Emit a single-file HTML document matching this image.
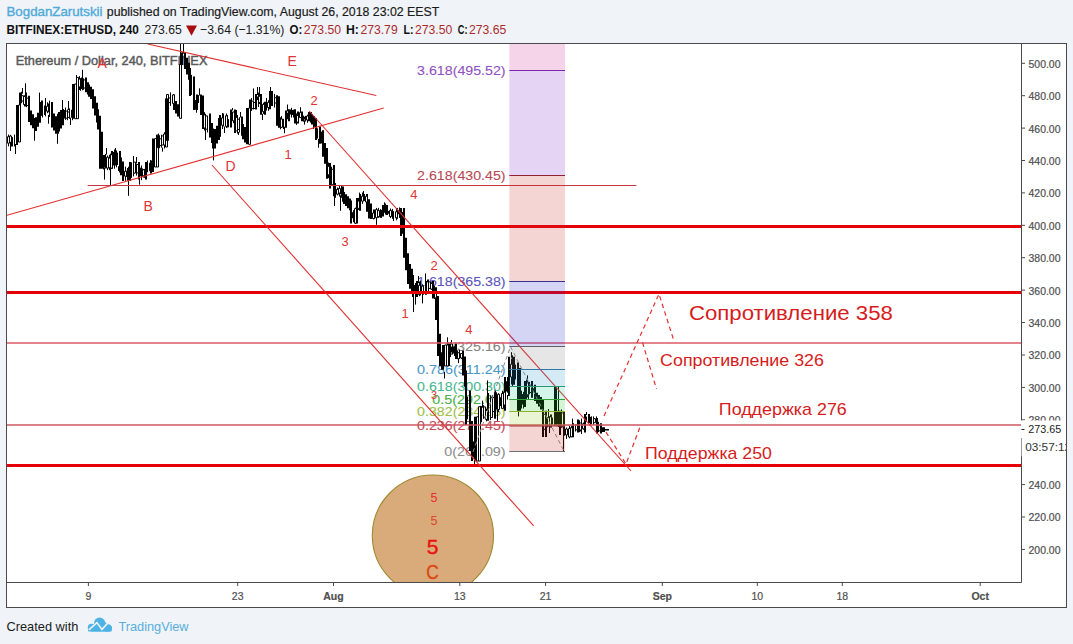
<!DOCTYPE html>
<html><head><meta charset="utf-8"><style>
html,body{margin:0;padding:0;width:1073px;height:644px;overflow:hidden;background:#f0f3f7;}
body{position:relative;font-family:"Liberation Sans", sans-serif;}
</style></head><body>
<svg width="1073" height="644" viewBox="0 0 1073 644" style="position:absolute;left:0;top:0">
<g font-family='"Liberation Sans", sans-serif' font-size="13">
<text x="6.5" y="15.6" fill="#4eaad9" stroke="#4eaad9" stroke-width="0.35" textLength="96" lengthAdjust="spacingAndGlyphs">BogdanZarutskii</text>
<text x="106.8" y="15.6" fill="#1b1b1b" stroke="#1b1b1b" stroke-width="0.2" textLength="332.4" lengthAdjust="spacingAndGlyphs">published on TradingView.com, August 26, 2018 23:02 EEST</text>
<text x="6.5" y="33.9" fill="#111" font-weight="bold" textLength="132.4" lengthAdjust="spacingAndGlyphs">BITFINEX:ETHUSD, 240</text>
<text x="144.5" y="33.9" fill="#1b1b1b" textLength="37.3" lengthAdjust="spacingAndGlyphs">273.65</text>
<path d="M186 25.6h11l-5.5 10.2z" fill="#a80e0e"/>
<text x="200" y="33.9" fill="#1b1b1b" textLength="84.4" lengthAdjust="spacingAndGlyphs">−3.64 (−1.31%)</text>
<text x="289.5" y="33.9" fill="#111" font-weight="bold" textLength="12.8" lengthAdjust="spacingAndGlyphs">O:</text>
<text x="346" y="33.9" fill="#111" font-weight="bold" textLength="12.9" lengthAdjust="spacingAndGlyphs">H:</text>
<text x="403.5" y="33.9" fill="#111" font-weight="bold" textLength="10.0" lengthAdjust="spacingAndGlyphs">L:</text>
<text x="457.8" y="33.9" fill="#111" font-weight="bold" textLength="9.7" lengthAdjust="spacingAndGlyphs">C:</text>
<text x="303.8" y="33.9" fill="#ab2a2d" textLength="37.3" lengthAdjust="spacingAndGlyphs">273.50</text>
<text x="360.4" y="33.9" fill="#ab2a2d" textLength="37.3" lengthAdjust="spacingAndGlyphs">273.79</text>
<text x="415" y="33.9" fill="#ab2a2d" textLength="37.3" lengthAdjust="spacingAndGlyphs">273.50</text>
<text x="469" y="33.9" fill="#ab2a2d" textLength="37.3" lengthAdjust="spacingAndGlyphs">273.65</text>
</g>
<rect x="6.5" y="43.5" width="1060" height="564" fill="#fff" stroke="#4a4a4a" stroke-width="1"/>
<defs><clipPath id="plot"><rect x="7" y="44" width="1014" height="538"/></clipPath></defs>
<text x="15.8" y="64.8" font-family='"Liberation Sans", sans-serif' font-size="12.8" fill="#5a5a5a" stroke="#5a5a5a" stroke-width="0.45" textLength="191.6" lengthAdjust="spacingAndGlyphs">Ethereum / Dollar, 240, BITFINEX</text>
<g font-family='"Liberation Sans", sans-serif' font-size="12">
<text x="417.1" y="74.8" fill="#9050c0" stroke="#9050c0" stroke-width="0.08" textLength="88.5" lengthAdjust="spacingAndGlyphs">3.618(495.52)</text>
<text x="417.1" y="179.8" fill="#b84852" stroke="#b84852" stroke-width="0.08" textLength="88.5" lengthAdjust="spacingAndGlyphs">2.618(430.45)</text>
<text x="417.1" y="285.8" fill="#5a52b8" stroke="#5a52b8" stroke-width="0.08" textLength="88.5" lengthAdjust="spacingAndGlyphs">1.618(365.38)</text>
<text x="444.3" y="350.8" fill="#858585" stroke="#858585" stroke-width="0.08" textLength="61.3" lengthAdjust="spacingAndGlyphs">1(325.16)</text>
<text x="417.1" y="373.8" fill="#4a98c8" stroke="#4a98c8" stroke-width="0.08" textLength="88.5" lengthAdjust="spacingAndGlyphs">0.786(311.24)</text>
<text x="417.1" y="390.8" fill="#46b890" stroke="#46b890" stroke-width="0.08" textLength="88.5" lengthAdjust="spacingAndGlyphs">0.618(300.30)</text>
<text x="432.3" y="403.8" fill="#48b048" stroke="#48b048" stroke-width="0.08" textLength="73.3" lengthAdjust="spacingAndGlyphs">0.5(292.68)</text>
<text x="417.1" y="415.8" fill="#a0c048" stroke="#a0c048" stroke-width="0.08" textLength="88.5" lengthAdjust="spacingAndGlyphs">0.382(284.95)</text>
<text x="417.1" y="430.3" fill="#c24a56" stroke="#c24a56" stroke-width="0.08" textLength="88.5" lengthAdjust="spacingAndGlyphs">0.236(275.45)</text>
<text x="444.3" y="455.8" fill="#8e8e8e" stroke="#8e8e8e" stroke-width="0.08" textLength="61.3" lengthAdjust="spacingAndGlyphs">0(260.09)</text>
</g>
<g clip-path="url(#plot)">
<path d="M8.5 134.5V146.4M10.5 134.9V146.5M11.5 137.9V146.5M12.5 137.3V146.5M14.5 134.6V146.5M21.5 91.7V103.2M24.5 95.3V106.5M26.5 96.2V107.2M41.5 100.5V115.9M42.5 100.5V117.5M45.5 102.6V116.4M47.5 102.2V113.2M49.5 103.2V115.3M49.5 100.6V116.9M65.5 109.9V119.4M65.5 107.5V119.7M67.5 109.4V120.2M69.5 108.4V118.8M72.5 107.5V120.2M79.5 76.1V90M80.5 78.2V90.8M82.5 75.9V90.3M83.5 78.3V89.8M103.5 155V169.5M105.5 154V168.5M107.5 155.5V170.2M109.5 154.8V170.2M110.5 153.7V170.2M114.5 149.5V168.7M116.5 150.4V167.3M117.5 152.6V164.9M125.5 166.6V180.8M127.5 168.1V178.3M128.5 166.7V182.5M131.5 162.3V177.9M133.5 160.6V176.4M134.5 162.5V173.3M136.5 163.5V175.6M141.5 165.5V180.2M142.5 168.4V177.1M144.5 168.9V177.8M147.5 160.5V172.2M150.5 160.5V173.5M151.5 160.5V173.5M158.5 133.5V150.1M159.5 137V148.1M161.5 134.7V147.7M164.5 132.2V148.5M168.5 95.7V103.2M170.5 93.8V105.9M173.5 94.2V107.2M182.5 52.1V64.7M191.5 74.9V95M196.5 97.4V111.5M198.5 95.1V103M204.5 112.1V130.5M205.5 113.8V129.6M207.5 119V132.5M222.5 114.7V129M223.5 113.5V126.4M226.5 113.5V127.9M228.5 119.1V127.3M233.5 111.9V123.2M235.5 114.9V131.6M237.5 115V133.6M239.5 117.2V132.5M251.5 98.1V110.9M253.5 101.2V109.5M258.5 92.5V101.6M259.5 92.5V104M263.5 102.7V113.9M266.5 100.3V110.5M268.5 100.2V110.8M272.5 95V106.1M274.5 93.9V107.5M280.5 117.3V129.3M281.5 116V128M283.5 118.8V129M288.5 110.4V120.7M291.5 107.8V117.5M293.5 109.7V117.5M296.5 113.5V124.9M300.5 111.2V118.1M303.5 115.6V121.7M305.5 115.9V121.6M307.5 114.7V122.8M317.5 128.3V138.5M321.5 131.7V143.4M328.5 162.5V178.1M331.5 166.7V184.9M335.5 183.1V197.8M337.5 187.5V195.4M339.5 185.1V196.6M341.5 185.9V197.8M353.5 210.2V222.2M355.5 207.6V224M358.5 197.9V209.9M362.5 192.5V203.9M364.5 194V200.9M366.5 195.3V203M373.5 212.4V219.4M376.5 207.9V219.3M378.5 207.9V217.7M380.5 209.1V217.9M381.5 209.9V217.9M385.5 203.5V214.5M389.5 211V213.9M390.5 208.5V218.1M392.5 208.9V218.8M393.5 211.2V218M396.5 209.9V220.3M399.5 207.4V217.9M403.5 209.7V235.1M415.5 283.1V296M419.5 281.5V296.2M420.5 280.7V295.4M422.5 284.3V291.9M423.5 285.8V294.6M427.5 279.5V293.7M428.5 279.5V290.5M431.5 282.4V290M434.5 285.7V299M450.5 342.1V357.1M452.5 343.9V354.4M454.5 346.2V356.1M457.5 350.3V359.1M459.5 349.7V358.8M461.5 353.1V359.1M467.5 396.8V419.3M474.5 437V462.2M480.5 405.9V420.3M481.5 406.1V422.3M483.5 405.2V418.8M486.5 408.9V421.4M488.5 393V417.2M490.5 395.4V420.1M492.5 395.2V416M496.5 392.6V409.6M498.5 393.3V412.2M500.5 397.2V406.1M502.5 390.8V408.8M504.5 390.9V405.2M507.5 377.1V392.7M511.5 360V379.7M512.5 355.3V386.2M515.5 364.6V379.5M521.5 390.7V408.5M523.5 391.8V408.5M526.5 379.5V398.9M528.5 381.9V399.3M529.5 381.8V394.3M534.5 387.3V396.8M543.5 412.9V434.1M547.5 417V427.3M549.5 416.3V429.1M552.5 417.8V424.6M558.5 409.8V427M561.5 409.4V427.8M566.5 428.7V438.6M566.5 427.6V438.8M569.5 425.7V438.3M571.5 425.7V437.2M573.5 424.9V430.7M575.5 424.7V431.5M579.5 420.3V432.2M581.5 418.6V434.1M583.5 422.5V429.7M586.5 416.6V422M590.5 416.8V424.8M591.5 416.4V424.1M593.5 416.4V424.8M596.5 416.4V423.1M598.5 421.8V432.2M15.5 144V154M10.5 144V151M25.5 83.3V93.6M22.5 88V93.6M34.5 128.1V140.7M39.5 92.6V113.3M45.5 98V103M48.5 115V123.7M57.5 133.5V143.8M62.5 100V111M68.5 101V110M70.5 117.7V125M82.5 69.8V78.4M76.5 75V85M106.5 148V154.5M104.5 167.7V179.6M110.5 167.7V185M115.5 148V152M118.5 166.2V171M128.5 180V195.8M133.5 156V163M136.5 157V163M139.5 178.6V184.6M150.5 160V163M162.5 147.6V151.7M170.5 92.4V95.5M180.5 43.5V65.5M183.5 43.5V53.6M196.5 109V112.7M199.5 88.3V95.5M200.5 102V114M205.5 128V140M213.5 145.7V160.4M218.5 118V126M222.5 113V116M224.5 126.5V133M232.5 108V110.4M236.5 110V117.4M240.5 112V117.4M238.5 132V135M253.5 88.4V100.6M257.5 87V95M259.5 87V95M258.5 101.8V107M262.5 113.8V120M266.5 98V102.7M270.5 87V91.9M284.5 126.8V133.3M287.5 104.5V111.4M300.5 107.2V112.5M304.5 120.3V124.6M313.5 123.3V129M318.5 139V147.7M334.5 195.3V206M340.5 195.3V210.8M359.5 192.6V199M363.5 191V195M376.5 216.8V224.8M384.5 202.4V206M393.5 216.4V221M413.5 295.5V312M415.5 296V304.6M418.5 276V283.2M422.5 293.7V303.4M425.5 273.5V282M444.5 372V378.5M447.5 337.3V346M451.5 340V344.6M458.5 358V363M474.5 460V465M482.5 400.6V407.7M487.5 380.4V407.7M497.5 409.7V420.8M507.5 395V399.6M511.5 352.1V357.8M518.5 409.8V416.4M527.5 375.4V382M548.5 409V417.4M549.5 426.6V433M563.5 434V451.8M572.5 418.6V428.2M586.5 412V415" fill="none" stroke="#000" stroke-width="1"/>
<path d="M11 138.6h1v4.9h-1zM12 137.6h1v5h-1zM14 136.9h1v8h-1zM16 105h2v40h-2zM19 92.6h2v49.4h-2zM25 92.6h2v14h-2zM28 95.7h2v26.3h-2zM30 110.4h2v14.8h-2zM32 114.3h2v14h-2zM34 118.1h2v12.8h-2zM35 117.3h2v13.6h-2zM37 112.7h2v14.1h-2zM39 102h2v20.7h-2zM41 104.9h1v6.7h-1zM42 105.3h1v9.9h-1zM44 105.5h1v9.5h-1zM48 103.4h1v8.8h-1zM49 105.5h1v8.9h-1zM51 102h2v25.5h-2zM53 113.4h2v17.2h-2zM55 116.3h2v17.4h-2zM57 113.7h2v20.1h-2zM58 111.9h2v19.7h-2zM60 110.1h2v18.3h-2zM62 109h2v16.2h-2zM64 110.1h1v8.4h-1zM69 110.9h1v5.7h-1zM71 109.8h1v7.9h-1zM72 84h2v34.7h-2zM80 80h1v7.3h-1zM81 77.5h1v11.6h-1zM85 77.4h2v14.8h-2zM87 82.2h2v12.3h-2zM88 84.5h2v12.3h-2zM90 86.8h2v12.3h-2zM92 89.2h2v19.3h-2zM94 96.2h2v19.3h-2zM96 102.7h2v19.7h-2zM97 109.2h2v20.2h-2zM99 115.7h2v53h-2zM101 131.7h2v37h-2zM103 155.1h1v11.6h-1zM104 155.1h1v12.4h-1zM111 151h2v17.7h-2zM113 152h1v13.6h-1zM115 151.7h1v13.8h-1zM117 153.4h1v11.5h-1zM119 151h2v21.5h-2zM120 157.6h2v17.7h-2zM122 161.4h2v19.6h-2zM126 170.7h1v6.2h-1zM127 168.1h1v12.6h-1zM129 162h2v19h-2zM131 166.7h1v6.6h-1zM134 164.2h1v7.9h-1zM138 162h2v17.6h-2zM140 167.8h1v8.4h-1zM143 168.9h1v8.6h-1zM145 162h2v17.6h-2zM147 162.4h1v9.3h-1zM152 138.6h2v33.4h-2zM170 97.1h1v5.1h-1zM173 94.5h2v15.6h-2zM175 100.9h2v12.5h-2zM177 104.2h2v12.4h-2zM180 52.6h2v65.7h-2zM182 53h1v11.6h-1zM184 52.6h2v16.3h-2zM186 57.7h2v16.7h-2zM188 62.8h2v17h-2zM189 68h2v28h-2zM191 77.2h1v13h-1zM193 76.4h2v33.6h-2zM195 99.9h1v9.9h-1zM196 94.5h2v15.5h-2zM198 96.7h1v3.5h-1zM200 94.5h2v20.5h-2zM202 95.4h2v33.6h-2zM207 119.8h1v9.3h-1zM209 113.6h2v23.8h-2zM211 122.9h2v20h-2zM212 128.4h2v20.1h-2zM214 129.1h2v19.4h-2zM216 125.7h2v17.7h-2zM218 122.3h2v17.7h-2zM219 115h2v21.7h-2zM223 115.4h1v8.8h-1zM226 115h2v12.5h-2zM228 122.3h1v2.9h-1zM230 109.4h2v18.1h-2zM234 109.4h2v23.6h-2zM239 119.2h1v9.6h-1zM241 116.4h2v19.4h-2zM242 124.1h2v15.1h-2zM244 127.1h2v15.4h-2zM246 108h2v36.3h-2zM249 99.6h2v44.7h-2zM255 94h2v15.4h-2zM257 96.6h1v3.4h-1zM260 94h2v20.8h-2zM264 101.7h2v13.1h-2zM265 102.3h1v5.5h-1zM269 90.9h2v18.4h-2zM271 90.9h2v15.1h-2zM272 98.8h1v5.8h-1zM276 95.2h2v30.5h-2zM278 96.3h2v31.5h-2zM281 119.1h1v8h-1zM283 119.5h1v7.9h-1zM285 110.4h2v17.4h-2zM287 112.7h1v6.5h-1zM288 109.3h2v12h-2zM290 109.5h1v4.9h-1zM292 109.9h1v5.2h-1zM294 109.3h2v14.2h-2zM297 111.5h2v12h-2zM301 111.5h2v9.8h-2zM303 116.6h1v3.1h-1zM304 116.7h1v2.9h-1zM308 111.9h2v9.4h-2zM310 111.9h2v10.6h-2zM311 113.9h2v10.7h-2zM313 116h2v10.7h-2zM315 118h2v22h-2zM317 130.2h1v5.5h-1zM319 126.4h2v17.4h-2zM320 133.2h1v5.9h-1zM322 130.2h2v26.5h-2zM324 143.1h2v20.7h-2zM326 147.9h2v30.9h-2zM329 163h2v25.5h-2zM333 165h2v31.3h-2zM334 187.2h1v7.2h-1zM340 189.5h1v4.7h-1zM342 186.6h2v15.1h-2zM343 192.1h2v11.8h-2zM345 194.2h2v11.8h-2zM347 196.3h2v11.9h-2zM349 198.4h2v11.9h-2zM350 200.5h2v22.9h-2zM352 212.3h1v6h-1zM356 198h2v25.4h-2zM359 194h2v16.8h-2zM363 195.1h1v5.8h-1zM366 194h2v17.8h-2zM368 199.2h2v19.3h-2zM370 203.6h2v15.4h-2zM373 209.4h2v9.6h-2zM379 210.8h1v6.5h-1zM380 212.2h1v3.6h-1zM382 205h2v11.4h-2zM384 205.8h1v7h-1zM386 205h2v10.1h-2zM388 211h1v2.7h-1zM391 212.8h1v3.4h-1zM393 211.7h1v4.9h-1zM396 208h2v10.8h-2zM398 210.2h1v4.1h-1zM400 208h2v28h-2zM402 212.1h1v21.7h-1zM403 208h2v49.7h-2zM405 237.7h2v32.6h-2zM407 253.3h2v30.8h-2zM409 264.1h2v24.7h-2zM411 268.8h2v24.6h-2zM412 275h2v22h-2zM414 285h1v8.6h-1zM416 281h2v16h-2zM419 283.2h1v7.8h-1zM423 286.4h1v7.9h-1zM425 281h2v13.7h-2zM432 281h2v17.4h-2zM435 287.2h2v32.8h-2zM437 296h2v60h-2zM439 333.8h2v32.5h-2zM441 352.3h2v17.5h-2zM442 345h2v24.8h-2zM448 343.6h2v22.4h-2zM453 347.2h1v6.2h-1zM455 343.6h2v15.4h-2zM458 352.8h1v5h-1zM462 350.6h2v24.8h-2zM464 356.5h2v30.3h-2zM465 370.5h2v54.5h-2zM467 401.7h1v14.5h-1zM469 390.5h2v60.5h-2zM471 421h2v40h-2zM473 441.5h1v16h-1zM474 416.8h2v44.2h-2zM480 410.5h1v8.3h-1zM481 407.6h1v12.7h-1zM487 394.5h2v26.3h-2zM488 395.8h1v16.5h-1zM494 390.5h2v28.3h-2zM496 392.6h1v16.4h-1zM499 397.4h1v7.7h-1zM504 377h2v33.7h-2zM506 381.2h1v10.3h-1zM508 356.8h2v39.2h-2zM511 358.4h1v26.1h-1zM513 356.8h2v27.9h-2zM515 367.6h1v9.9h-1zM517 362.4h2v48.4h-2zM519 368h2v42.8h-2zM520 393.1h1v13h-1zM522 394h1v10.6h-1zM524 381h2v26h-2zM527 384.6h1v13h-1zM531 381h2v16.8h-2zM533 388.2h1v4h-1zM534 384.7h2v16.2h-2zM536 392.8h2v10.9h-2zM538 394.9h2v11.7h-2zM540 397h2v12.5h-2zM542 399.1h2v37.8h-2zM545 410.8h2v26.1h-2zM550 414.5h2v13.1h-2zM552 417.8h1v5.4h-1zM554 386.6h2v39.1h-2zM559 410.8h2v24.2h-2zM563 410.9h2v24.8h-2zM566 427.9h1v6.5h-1zM572 423.3h2v14h-2zM573 426.1h1v2.8h-1zM577 419.4h2v13.2h-2zM580 423.2h1v8.4h-1zM584 414h2v18.6h-2zM586 417.2h1v4.8h-1zM588 414h2v9.3h-2zM589 419.4h1v2h-1zM591 418.9h1v3.5h-1zM595 419.5h1v2.2h-1zM596 417.9h2v15.5h-2zM600 423.3h2v10.1h-2zM602 427.2h2v4.7h-2zM603 427.2h2v4.7h-2zM605 429h2v1.5h-2zM607 429h2v1.5h-2z" fill="#000"/>
<path d="M7.5 136.7h2v6.5h-2zM9.5 136h2v6.3h-2zM18.5 105h2v37h-2zM21.5 95.7h2v5.3h-2zM23.5 96.4h2v8.2h-2zM26.5 98.1h2v7.4h-2zM46.5 106.2h2v5h-2zM65.5 111.1h2v7.1h-2zM67.5 112h2v5.4h-2zM74.5 84h2v34.7h-2zM76.5 77.4h2v41.3h-2zM78.5 79.1h2v7.8h-2zM83.5 79.9h2v8.1h-2zM106.5 157.2h2v10.9h-2zM108.5 158.1h2v9.7h-2zM110.5 154.7h2v13.4h-2zM124.5 171.3h2v4.9h-2zM133.5 162.1h2v11h-2zM136.5 164.5h2v8.4h-2zM142.5 169.8h2v6h-2zM149.5 163.1h2v7.8h-2zM150.5 162.7h2v8.2h-2zM154.5 138.6h2v28.4h-2zM156.5 135h2v32h-2zM157.5 135.4h2v12.4h-2zM159.5 138.8h2v6.8h-2zM161.5 135.9h2v9.1h-2zM163.5 134h2v11h-2zM165.5 98.7h2v48.3h-2zM166.5 94.5h2v46h-2zM168.5 98h2v4.6h-2zM172.5 94.9h2v8.5h-2zM179.5 64.5h2v53.8h-2zM203.5 114.9h2v13.1h-2zM205.5 115.9h2v13.3h-2zM221.5 117.9h2v7.3h-2zM225.5 115.8h2v10.5h-2zM232.5 112h2v8.8h-2zM235.5 117.4h2v13.5h-2zM237.5 119.2h2v10.3h-2zM248.5 108h2v36.3h-2zM251.5 101.2h2v7.4h-2zM253.5 102.5h2v6h-2zM258.5 96.2h2v6.3h-2zM262.5 104.4h2v7.3h-2zM267.5 102.4h2v5.1h-2zM274.5 97.7h2v5.3h-2zM280.5 119h2v8.3h-2zM296.5 115.5h2v6.6h-2zM299.5 112.6h2v5h-2zM306.5 116h2v4h-2zM327.5 166.3h2v8.5h-2zM331.5 169.3h2v15.4h-2zM336.5 189.3h2v4.9h-2zM338.5 188.4h2v4.7h-2zM354.5 208.6h2v14.6h-2zM357.5 201.1h2v7.3h-2zM361.5 196.2h2v5h-2zM365.5 196.3h2v5.7h-2zM372.5 213h2v5.6h-2zM375.5 209.6h2v8.2h-2zM377.5 210.6h2v6h-2zM389.5 210.4h2v6.1h-2zM395.5 211.7h2v6.1h-2zM418.5 285.3h2v9.3h-2zM421.5 286.1h2v5.4h-2zM426.5 281.9h2v10.1h-2zM428.5 281.9h2v6.5h-2zM430.5 283.4h2v5.7h-2zM434.5 290.4h2v7.5h-2zM444.5 345h2v21h-2zM446.5 345h2v21h-2zM450.5 344h2v10h-2zM451.5 346.9h2v5.3h-2zM457.5 352.7h2v6h-2zM460.5 353.5h2v4.5h-2zM476.5 416.8h2v44.2h-2zM478.5 406.7h2v54.3h-2zM483.5 406.9h2v10.2h-2zM485.5 410.4h2v9h-2zM490.5 397.7h2v19.8h-2zM492.5 397.6h2v14h-2zM497.5 394.3h2v15.2h-2zM501.5 393.6h2v14.8h-2zM503.5 392.2h2v12.8h-2zM510.5 364.2h2v12.8h-2zM526.5 382.9h2v11.9h-2zM529.5 385.2h2v7.3h-2zM543.5 414.3h2v15h-2zM547.5 417.6h2v8.4h-2zM549.5 416.7h2v10h-2zM556.5 386.6h2v39.1h-2zM557.5 411.2h2v13.1h-2zM561.5 412.9h2v14h-2zM565.5 429h2v5.9h-2zM568.5 428.6h2v8.4h-2zM570.5 427.7h2v9.1h-2zM575.5 424.8h2v5h-2zM579.5 423h2v7h-2zM582.5 423.9h2v4.9h-2zM593.5 418.6h2v4.1h-2zM598.5 425.1h2v5.7h-2z" fill="#fff" stroke="#000" stroke-width="1"/>
<path d="M473 452L510.5 346.6L564.5 452" fill="none" stroke="#8c8c8c" stroke-width="1" stroke-dasharray="4 3"/>
<path d="M7 226.5H1021" stroke="#e60008" stroke-width="3"/>
<path d="M7 292.5H1021" stroke="#e60008" stroke-width="3"/>
<path d="M7 465.5H1021" stroke="#e60008" stroke-width="3"/>
<path d="M7 343H1021" stroke="#d85a68" stroke-width="1.3"/>
<path d="M7 425H1021" stroke="#cc5662" stroke-width="1.3"/>
<path d="M147.7 44L376.3 95.5" stroke="#e23030" stroke-width="1.1"/>
<path d="M7 215.2L383.7 108" stroke="#e23030" stroke-width="1.1"/>
<path d="M309.2 111L631 471" stroke="#e23030" stroke-width="1.1"/>
<path d="M211.9 165L533.7 525.9" stroke="#e23030" stroke-width="1.1"/>
<path d="M87.6 185.5H636.4" stroke="#c83840" stroke-width="1.2"/>
<path d="M604 416L659 294L674 341" fill="none" stroke="#e53030" stroke-width="1.2" stroke-dasharray="4.5 3.5"/>
<path d="M606 432L626 464L640 427" fill="none" stroke="#e53030" stroke-width="1.2" stroke-dasharray="4.5 3.5"/>
<path d="M642.5 342.4L656.5 389" fill="none" stroke="#e53030" stroke-width="1.2" stroke-dasharray="4.5 3.5"/>
<circle cx="432.9" cy="535.6" r="60.6" fill="#d9aa7a" stroke="#9c8a30" stroke-width="1.1"/>
<rect x="509.3" y="43.5" width="55.7" height="27.0" fill="#cc2895" fill-opacity="0.2"/>
<rect x="509.3" y="70.5" width="55.7" height="105.0" fill="#8028cc" fill-opacity="0.2"/>
<rect x="509.3" y="175.5" width="55.7" height="106.0" fill="#cc2828" fill-opacity="0.2"/>
<rect x="509.3" y="281.5" width="55.7" height="65.0" fill="#2828cc" fill-opacity="0.2"/>
<rect x="509.3" y="346.5" width="55.7" height="23.0" fill="#808080" fill-opacity="0.2"/>
<rect x="509.3" y="369.5" width="55.7" height="17.0" fill="#2895cc" fill-opacity="0.2"/>
<rect x="509.3" y="386.5" width="55.7" height="13.0" fill="#28cc95" fill-opacity="0.2"/>
<rect x="509.3" y="399.5" width="55.7" height="12.0" fill="#28cc28" fill-opacity="0.2"/>
<rect x="509.3" y="411.5" width="55.7" height="14.5" fill="#95cc28" fill-opacity="0.2"/>
<rect x="509.3" y="426.0" width="55.7" height="25.5" fill="#cc2828" fill-opacity="0.2"/>
<path d="M509.3 70.5H565.0" stroke="#7a2aa8" stroke-width="1"/>
<path d="M509.3 175.5H565.0" stroke="#8c2232" stroke-width="1"/>
<path d="M509.3 281.5H565.0" stroke="#38308c" stroke-width="1"/>
<path d="M509.3 346.5H565.0" stroke="#606068" stroke-width="1"/>
<path d="M509.3 369.5H565.0" stroke="#2f78a8" stroke-width="1"/>
<path d="M509.3 386.5H565.0" stroke="#2a9a70" stroke-width="1"/>
<path d="M509.3 399.5H565.0" stroke="#35a03a" stroke-width="1"/>
<path d="M509.3 411.5H565.0" stroke="#8cb030" stroke-width="1"/>
<path d="M509.3 426.0H565.0" stroke="#b03040" stroke-width="1"/>
<path d="M509.3 451.5H565.0" stroke="#707070" stroke-width="1"/>
</g>
<g font-family='"Liberation Sans", sans-serif' fill="#e03434">
<text x="97.5" y="68" font-size="14">A</text>
<text x="287.5" y="66" font-size="14">E</text>
<text x="143.5" y="211" font-size="14">B</text>
<text x="225.5" y="171" font-size="14">D</text>
<text x="284.5" y="159" font-size="13">1</text>
<text x="310.5" y="104.8" font-size="13">2</text>
<text x="341.5" y="246" font-size="13">3</text>
<text x="410.2" y="198.8" font-size="13">4</text>
<text x="430.5" y="269.8" font-size="13">2</text>
<text x="401.5" y="318" font-size="13">1</text>
<text x="465.2" y="333.5" font-size="13">4</text>
<text x="431" y="398.6" font-size="11">3</text>
</g>
<g font-family='"Liberation Sans", sans-serif' text-anchor="middle">
<text x="434" y="502" font-size="12.5" fill="#e8302a">5</text>
<text x="434" y="524.6" font-size="12.5" fill="#d84a2a">5</text>
<text x="432.7" y="554.2" font-size="21" fill="#e81410" stroke="#e81410" stroke-width="0.4">5</text>
<text x="432.5" y="579.2" font-size="20" fill="#dc4412" stroke="#dc4412" stroke-width="0.3" textLength="12.5" lengthAdjust="spacingAndGlyphs">C</text>
</g>
<g font-family='"Liberation Sans", sans-serif' fill="#d61c20">
<text x="688.9" y="320.2" font-size="20.5" textLength="204" lengthAdjust="spacingAndGlyphs">Сопротивление 358</text>
<text x="660.1" y="366" font-size="17" textLength="163.8" lengthAdjust="spacingAndGlyphs">Сопротивление 326</text>
<text x="718.8" y="415.2" font-size="17" textLength="128" lengthAdjust="spacingAndGlyphs">Поддержка 276</text>
<text x="645" y="459" font-size="17" textLength="126.9" lengthAdjust="spacingAndGlyphs">Поддержка 250</text>
</g>
<path d="M1021.5 43.5V582.5M6.5 582.5H1021.5" stroke="#4a4a4a" stroke-width="1" fill="none"/>
<g font-family='"Liberation Sans", sans-serif' font-size="10.5" fill="#505050" stroke="#505050" stroke-width="0.2">
<text x="1028.5" y="67.7" textLength="32" lengthAdjust="spacingAndGlyphs">500.00</text>
<text x="1028.5" y="100.1" textLength="32" lengthAdjust="spacingAndGlyphs">480.00</text>
<text x="1028.5" y="132.5" textLength="32" lengthAdjust="spacingAndGlyphs">460.00</text>
<text x="1028.5" y="164.9" textLength="32" lengthAdjust="spacingAndGlyphs">440.00</text>
<text x="1028.5" y="197.3" textLength="32" lengthAdjust="spacingAndGlyphs">420.00</text>
<text x="1028.5" y="229.7" textLength="32" lengthAdjust="spacingAndGlyphs">400.00</text>
<text x="1028.5" y="262.1" textLength="32" lengthAdjust="spacingAndGlyphs">380.00</text>
<text x="1028.5" y="294.5" textLength="32" lengthAdjust="spacingAndGlyphs">360.00</text>
<text x="1028.5" y="326.9" textLength="32" lengthAdjust="spacingAndGlyphs">340.00</text>
<text x="1028.5" y="359.4" textLength="32" lengthAdjust="spacingAndGlyphs">320.00</text>
<text x="1028.5" y="391.8" textLength="32" lengthAdjust="spacingAndGlyphs">300.00</text>
<text x="1028.5" y="424.2" textLength="32" lengthAdjust="spacingAndGlyphs">280.00</text>
<text x="1028.5" y="456.6" textLength="32" lengthAdjust="spacingAndGlyphs">260.00</text>
<text x="1028.5" y="489.0" textLength="32" lengthAdjust="spacingAndGlyphs">240.00</text>
<text x="1028.5" y="521.4" textLength="32" lengthAdjust="spacingAndGlyphs">220.00</text>
<text x="1028.5" y="553.8" textLength="32" lengthAdjust="spacingAndGlyphs">200.00</text>
<text x="88.4" y="599.5" text-anchor="middle">9</text>
<text x="237.7" y="599.5" text-anchor="middle">23</text>
<text x="333.5" y="599.5" text-anchor="middle" font-weight="bold">Aug</text>
<text x="459.8" y="599.5" text-anchor="middle">13</text>
<text x="545.6" y="599.5" text-anchor="middle">21</text>
<text x="662.3" y="599.5" text-anchor="middle" font-weight="bold">Sep</text>
<text x="757.3" y="599.5" text-anchor="middle">10</text>
<text x="842.3" y="599.5" text-anchor="middle">18</text>
<text x="980.2" y="599.5" text-anchor="middle" font-weight="bold">Oct</text>
</g>
<path d="M1021.5 63.3H1025M1021.5 95.7H1025M1021.5 128.1H1025M1021.5 160.5H1025M1021.5 192.9H1025M1021.5 225.3H1025M1021.5 257.7H1025M1021.5 290.1H1025M1021.5 322.5H1025M1021.5 355.0H1025M1021.5 387.4H1025M1021.5 419.8H1025M1021.5 452.2H1025M1021.5 484.6H1025M1021.5 517.0H1025M1021.5 549.4H1025M88.4 582.5V586M237.7 582.5V586M333.5 582.5V586M459.8 582.5V586M545.6 582.5V586M662.3 582.5V586M757.3 582.5V586M842.3 582.5V586M980.2 582.5V586" stroke="#4a4a4a" stroke-width="1"/>
<rect x="1021" y="420.5" width="45" height="17.5" fill="#fff"/>
<path d="M1021.5 429.5H1024.5" stroke="#222" stroke-width="1"/>
<path d="M1021.5 438V456.5" stroke="#9a9a9a" stroke-width="1"/>
<text x="1028.3" y="432.9" font-family='"Liberation Sans", sans-serif' font-size="10.5" fill="#222" textLength="33" lengthAdjust="spacingAndGlyphs">273.65</text>
<rect x="1022" y="438" width="44" height="19.5" fill="#fff"/>
<text x="1025.2" y="450.8" font-family='"Liberation Sans", sans-serif' font-size="10.5" fill="#333" textLength="46" lengthAdjust="spacingAndGlyphs">03:57:12</text>
<path d="M1066.5 420V460" stroke="#4a4a4a" stroke-width="1"/>
<rect x="1067" y="410" width="6" height="60" fill="#f0f3f7"/>
<text x="6.5" y="630.5" font-family='"Liberation Sans", sans-serif' font-size="13" fill="#1b1b1b" textLength="71.8" lengthAdjust="spacingAndGlyphs">Created with</text>
<g fill="#4db3e4"><circle cx="91.6" cy="627.6" r="3.8"/><circle cx="99.6" cy="623.2" r="5.6"/><circle cx="108" cy="628" r="3.8"/><rect x="88" y="626" width="23.8" height="5.5" rx="1"/><path d="M92 626L99.6 618L108 624.2V631.5H92z"/></g>
<path d="M88.8 629.8L96.9 622.6L102 629.4L109 621.8" fill="none" stroke="#f0f3f7" stroke-width="1.6"/>
<text x="118.4" y="630.5" font-family='"Liberation Sans", sans-serif' font-size="13" fill="#58afdc" textLength="70.2" lengthAdjust="spacingAndGlyphs">TradingView</text>
</svg>
</body></html>
